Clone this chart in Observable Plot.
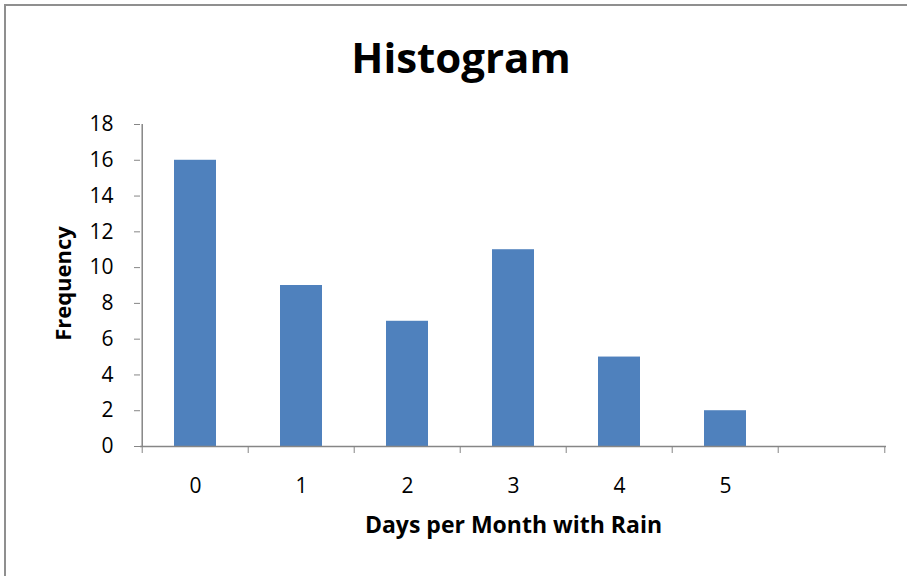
<!DOCTYPE html>
<html><head><meta charset="utf-8">
<script src="https://cdn.jsdelivr.net/npm/d3@7"></script>
<script src="https://cdn.jsdelivr.net/npm/@observablehq/plot@0.6"></script>
<style>
html,body{margin:0;padding:0;background:#fff;}
#page{position:relative;width:907px;height:576px;overflow:hidden;font-family:"Open Sans",Lato,sans-serif;}
#frame{position:absolute;left:4px;top:4px;width:920px;height:600px;border:2px solid #8f8f8f;box-sizing:border-box;}
#title{position:absolute;left:0;top:36px;width:922px;text-align:center;font-size:42px;font-weight:bold;line-height:1;color:#000;}
#chart{position:absolute;left:0;top:110px;}
</style>
</head><body>
<div id="page"><div id="frame"></div><div id="title">Histogram</div><div id="chart"></div></div>
<script>
const categories = ["0","1","2","3","4","5",""];
const frequencies = [16, 9, 7, 11, 5, 2];
const yTicks = [0,2,4,6,8,10,12,14,16,18];
const yLabel = "Frequency";
const xLabel = "Days per Month with Rain";

const data = frequencies.map((f,i)=>({cat: categories[i], freq: f}));
const W = 907, H = 466, ML = 140, MR = 21, MT = 14, MB = 130;
const step = (W-ML-MR)/categories.length;
const axisGrey = "#868686";

const chart = Plot.plot({
  width: W, height: H,
  marginLeft: ML, marginRight: MR, marginTop: MT, marginBottom: MB,
  style: {fontFamily: "'Open Sans', Lato, sans-serif", fontSize: "21px", color: "#000", background: "transparent", overflow: "visible"},
  x: {domain: categories, paddingInner: 0.6, paddingOuter: 0.3, label: null},
  y: {domain: [0,18], label: null},
  marks: [
    Plot.barY(data, {x: "cat", y: "freq", fill: "#4F81BD"}),
    Plot.ruleY([0], {stroke: axisGrey, strokeWidth: 1.5}),
    Plot.ruleX([categories[0]], {dx: -step/2, stroke: axisGrey, strokeWidth: 1.5}),
    Plot.axisY(yTicks, {tickSize: 6, tickPadding: 21, stroke: axisGrey, fill: "#000", strokeOpacity: 1, label: null}),
    Plot.axisX({tickSize: 0, tickPadding: 32, fill: "#000", label: null}),
    Plot.axisX(categories, {tickSize: 7, tickFormat: () => "", dx: -step/2, stroke: axisGrey, strokeOpacity: 1, label: null}),
    Plot.axisX([categories[categories.length-1]], {tickSize: 7, tickFormat: () => "", dx: step/2, stroke: axisGrey, strokeOpacity: 1, label: null}),
    Plot.text([yLabel], {frameAnchor: "left", textAnchor: "middle", lineAnchor: "middle", rotate: -90, dx: -77, dy: -2, fontWeight: "bold", fontSize: 22, fill: "#000"}),
    Plot.text([xLabel], {frameAnchor: "bottom", textAnchor: "middle", lineAnchor: "middle", dy: 79, fontWeight: "bold", fontSize: 23, fill: "#000"})
  ]
});
document.getElementById("chart").appendChild(chart);
</script>
</body></html>
